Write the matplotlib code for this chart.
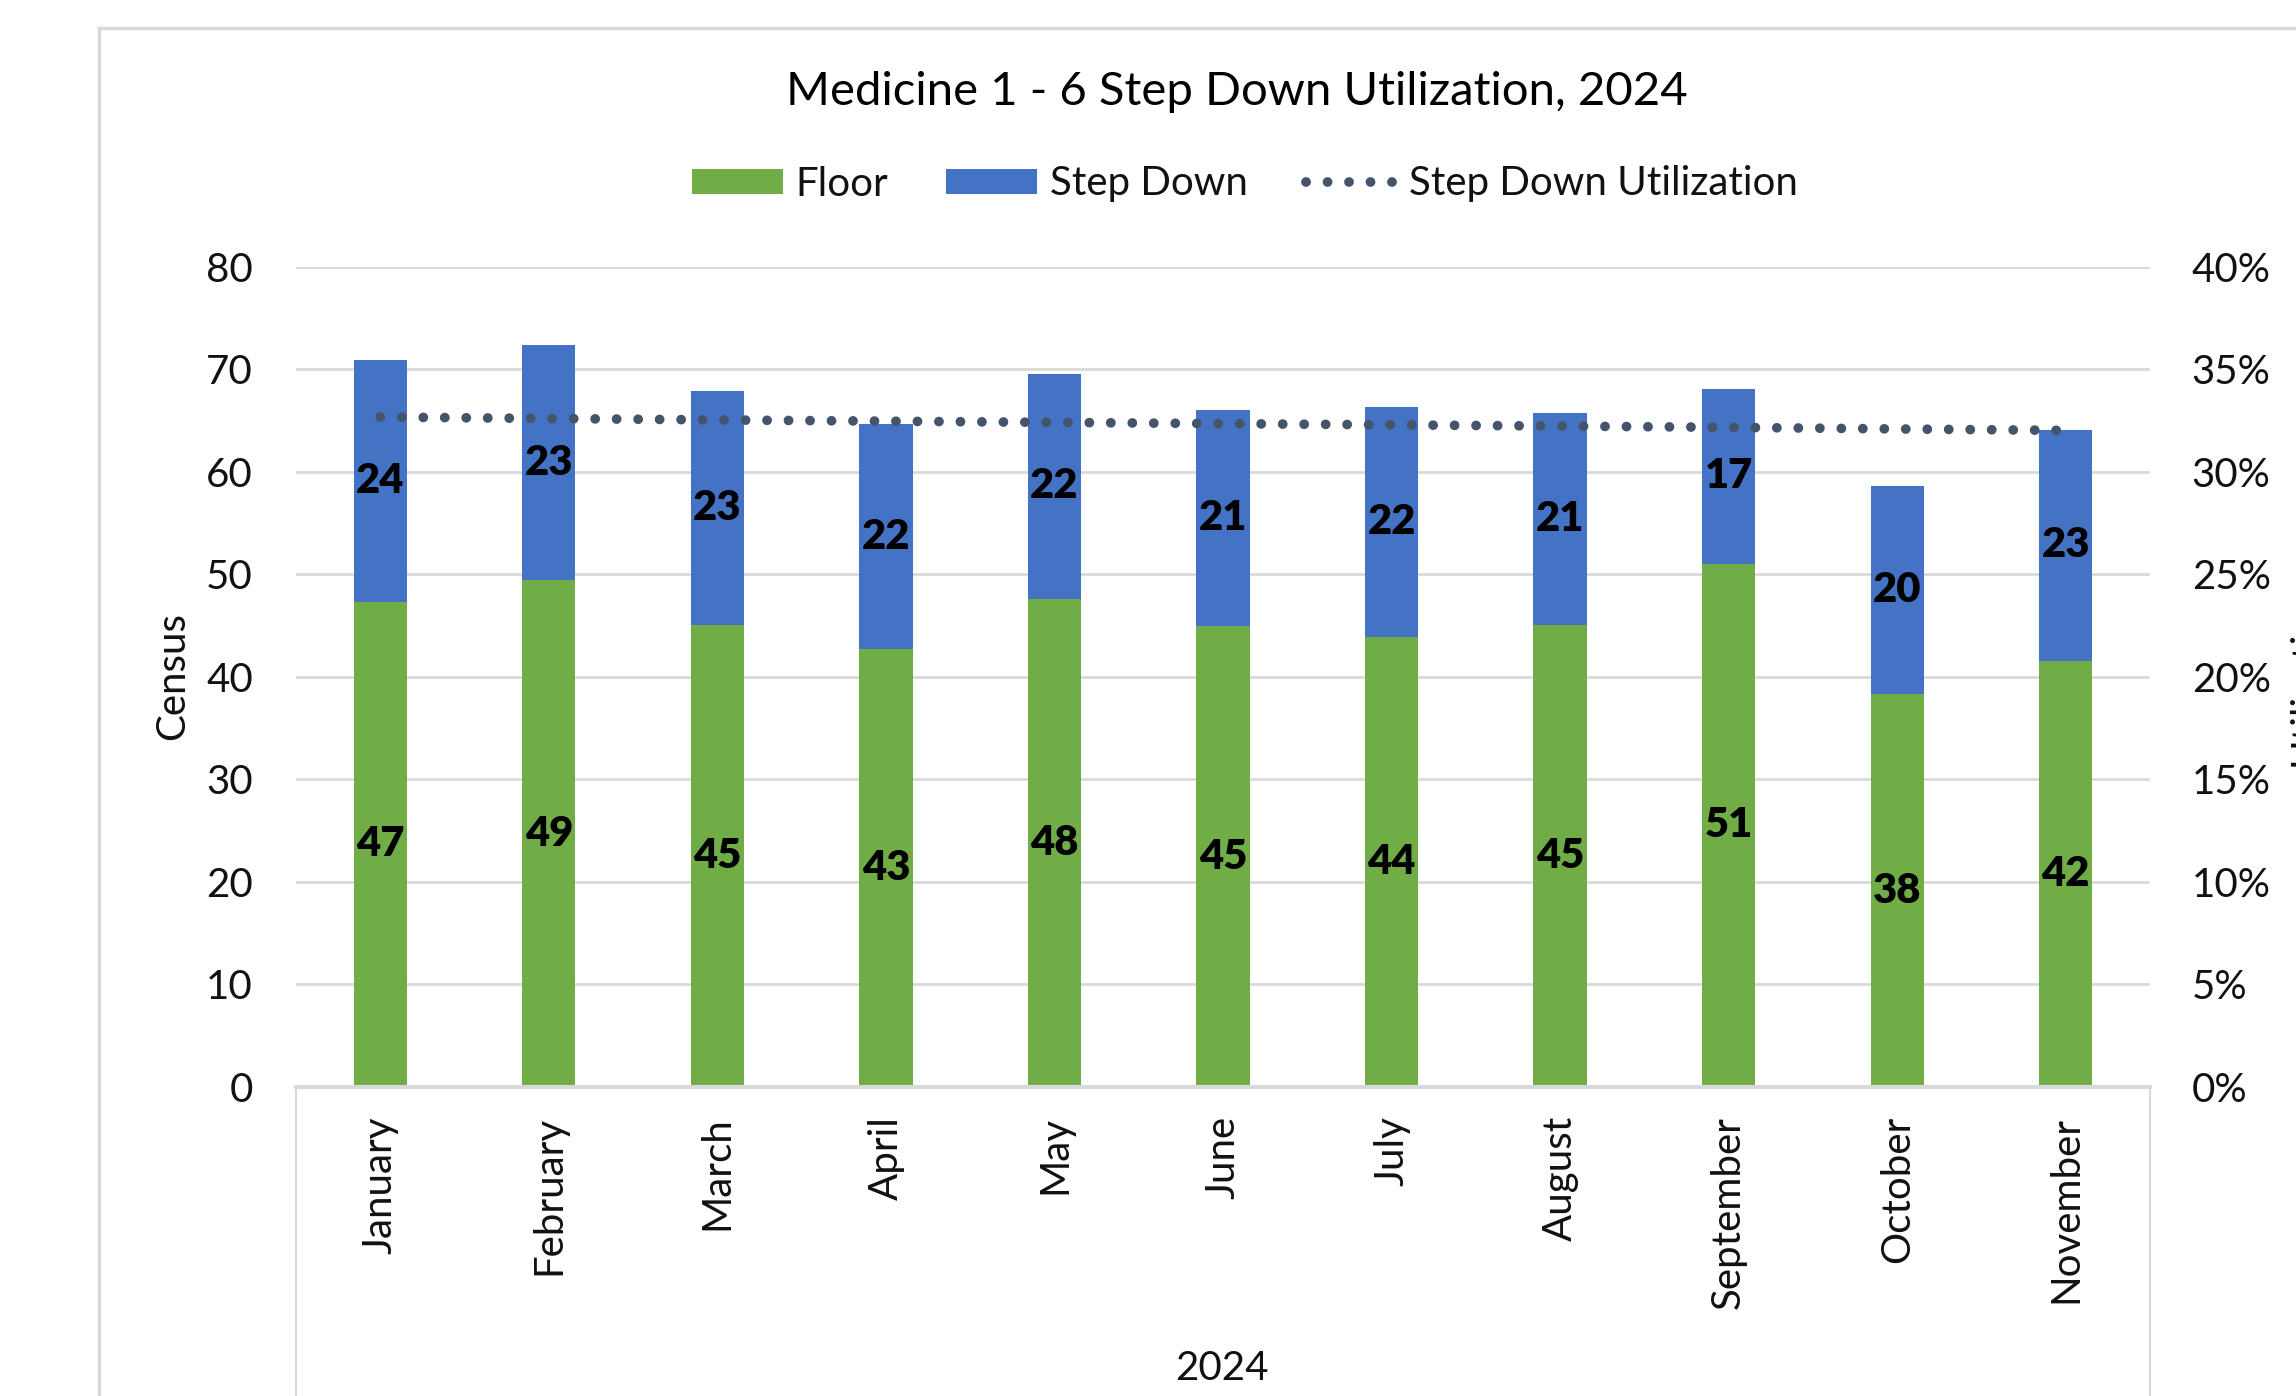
import matplotlib
matplotlib.use("Agg")
import matplotlib.pyplot as plt
from matplotlib.lines import Line2D
from matplotlib.ticker import FuncFormatter

months = ["January", "February", "March", "April", "May", "June", "July",
          "August", "September", "October", "November"]
floor = [47.3, 49.4, 45.0, 42.7, 47.6, 44.9, 43.9, 45.0, 51.0, 38.3, 41.5]
step_down = [23.6, 22.9, 22.9, 21.9, 21.9, 21.1, 22.4, 20.7, 17.1, 20.3, 22.6]
utilization = [0.3266, 0.3259, 0.3252, 0.3246, 0.3240, 0.3234, 0.3228,
               0.3222, 0.3216, 0.3208, 0.3201]
year_label = "2024"
title = "Medicine 1 - 6 Step Down Utilization, 2024"

W, H = 2296, 1396
plt.rcParams['font.family'] = ['Lato', 'DejaVu Sans']
TXT = '#111111'
GRID = '#d9d9d9'
GREEN = '#70AD47'
BLUE = '#4472C4'
LINEC = '#44546A'
FS = 29

fig = plt.figure(figsize=(W / 100, H / 100), dpi=100)
fig.patch.set_facecolor('white')

x0, x1, ytop, ybot = 296, 2150, 266.5, 1087
ax = fig.add_axes([x0 / W, 1 - ybot / H, (x1 - x0) / W, (ybot - ytop) / H])
ax2 = ax.twinx()

xs = list(range(len(months)))
b1 = ax.bar(xs, floor, width=0.316, color=GREEN, label="Floor", zorder=2)
b2 = ax.bar(xs, step_down, width=0.316, bottom=floor, color=BLUE,
            label="Step Down", zorder=2)
ax.bar_label(b1, labels=[f"{v:.0f}" for v in floor], label_type='center',
             fontsize=FS + 1, fontweight='heavy', color='black')
ax.bar_label(b2, labels=[f"{v:.0f}" for v in step_down], label_type='center',
             fontsize=FS + 1, fontweight='heavy', color='black')

ln, = ax2.plot(xs, utilization, color=LINEC, lw=7.0,
               linestyle=(0, (0.01, 2.2)), dash_capstyle='round',
               label="Step Down Utilization")

ax.set_xlim(-0.5, len(months) - 0.5)
ax.set_ylim(0, 80)
ax.set_yticks(range(0, 81, 10))
ax2.set_ylim(0, 0.40)
ax2.set_yticks([i * 0.05 for i in range(9)])
ax2.yaxis.set_major_formatter(FuncFormatter(lambda v, p: f"{v * 100:.0f}%"))

ax.set_xticks(xs)
ax.set_xticklabels(months, rotation=90, fontsize=FS, color=TXT)
ax.tick_params(axis='x', length=0, pad=21)
ax.tick_params(axis='y', length=0, pad=31, labelsize=FS, labelcolor=TXT)
ax2.tick_params(axis='y', length=0, pad=30, labelsize=FS, labelcolor=TXT)

ax.yaxis.grid(True, color=GRID, lw=2.0, zorder=0)
ax.set_axisbelow(True)
for a in (ax, ax2):
    for s in ('top', 'left', 'right', 'bottom'):
        a.spines[s].set_visible(False)
ax.spines['bottom'].set_visible(True)
ax.spines['bottom'].set_color(GRID)
ax.spines['bottom'].set_linewidth(3)

# category axis box lines
for xx in (x0, x1):
    fig.add_artist(Line2D([xx / W, xx / W], [0, 1 - ybot / H], color=GRID, lw=1.5))
# outer chart border
fig.add_artist(Line2D([99 / W, 99 / W], [0, 1 - 28 / H], color=GRID, lw=2.5))
fig.add_artist(Line2D([99 / W, 1], [1 - 28 / H, 1 - 28 / H], color=GRID, lw=2.5))

fig.text(1237 / W, 1 - 92 / H, title, fontsize=34, color='black',
         ha='center', va='center')
fig.text(173 / W, 1 - 676 / H, "Census", fontsize=FS, color=TXT,
         rotation=90, ha='center', va='center')
fig.text(1222 / W, 1 - 1368 / H, year_label, fontsize=FS, color=TXT,
         ha='center', va='center')
fig.text(2288 / W, 1 - 676 / H, "Utilization", fontsize=FS, color=TXT,
         rotation=90, ha='left', va='center')

fig.legend(handles=[b1, b2, ln], loc='center', ncol=3,
           bbox_to_anchor=(1245 / W, 1 - 184 / H), frameon=False,
           fontsize=FS, handlelength=2.26, handleheight=0.57,
           handletextpad=0.3, columnspacing=1.45, labelcolor=TXT)

fig.savefig("out.png", dpi=100, facecolor='white')
